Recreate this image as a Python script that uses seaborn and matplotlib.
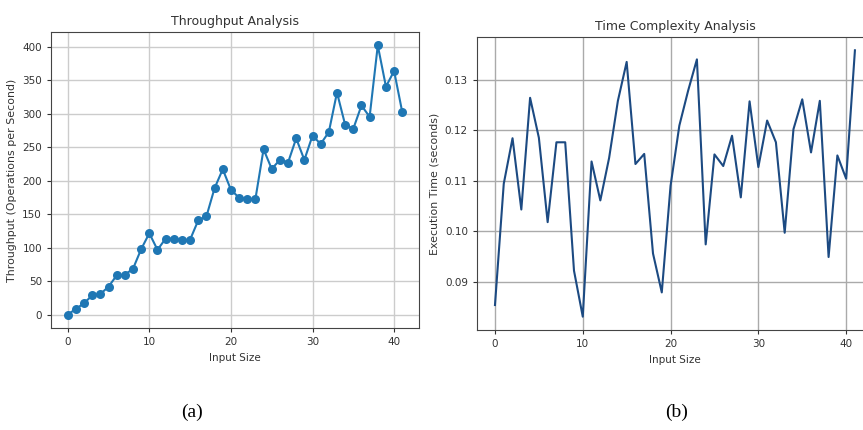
import numpy as np
import pandas as pd
import matplotlib
matplotlib.use("Agg")
import matplotlib.pyplot as plt
import seaborn as sns

plt.rcParams["font.family"] = ["DejaVu Sans"]

# 数据
input_size = list(range(42))
throughput = [0, 8.4, 16.9, 28.7, 30.7, 41.6, 58.5, 59.5, 68.4, 97.7,
              121.4, 96.7, 113.5, 113.5, 111, 112, 140.8, 146.7, 188.9, 217,
              186.4, 174.5, 172.5, 172.5, 246.9, 217.6, 231, 227, 263.2, 231,
              267.2, 254.8, 272.6, 331.6, 283.5, 277.6, 312.3, 295.4, 402, 340.5,
              363.8, 302.4]
exec_time = [0.0854, 0.1094, 0.1184, 0.1043, 0.1264, 0.1185, 0.1018, 0.1176, 0.1176, 0.0922,
             0.0831, 0.1138, 0.1061, 0.1145, 0.1258, 0.1335, 0.1133, 0.1153, 0.0956, 0.0879,
             0.1090, 0.1209, 0.1278, 0.1340, 0.0974, 0.1152, 0.1129, 0.1189, 0.1067, 0.1257,
             0.1127, 0.1219, 0.1176, 0.0997, 0.1202, 0.1261, 0.1156, 0.1258, 0.0949, 0.1150,
             0.1104, 0.1358]

df = pd.DataFrame({"size": input_size, "tp": throughput, "t": exec_time})

fig = plt.figure(figsize=(8.63, 4.30), dpi=100)
ax1 = fig.add_axes([0.0591, 0.2372, 0.4264, 0.6884])
ax2 = fig.add_axes([0.5527, 0.2326, 0.4588, 0.6814])

# (a) 吞吐量
sns.lineplot(data=df, x="size", y="tp", ax=ax1, color="#1f77b4", marker="o",
             markersize=6.5, markeredgewidth=0, linewidth=1.5)
ax1.set_title("Throughput Analysis", fontsize=9, color="#333333", pad=5)
ax1.set_xlabel("Input Size", fontsize=7.5, color="#333333")
ax1.set_ylabel("Throughput (Operations per Second)", fontsize=7.9, color="#333333")
ax1.set_xticks([0, 10, 20, 30, 40])
ax1.set_yticks(range(0, 401, 50))
ax1.grid(True, color="#cccccc", linewidth=1)

# (b) 执行时间
sns.lineplot(data=df, x="size", y="t", ax=ax2, color="#1c4a82", linewidth=1.5)
ax2.set_title("Time Complexity Analysis", fontsize=9, color="#333333", pad=5)
ax2.set_xlabel("Input Size", fontsize=7.5, color="#333333")
ax2.set_ylabel("Execution Time (seconds)", fontsize=7.9, color="#333333")
ax2.set_xticks([0, 10, 20, 30, 40])
ax2.set_yticks([0.09, 0.10, 0.11, 0.12, 0.13])
ax2.yaxis.set_major_formatter(matplotlib.ticker.FormatStrFormatter("%.2f"))
ax2.grid(True, color="#aaaaaa", linewidth=1)
ax2.spines["right"].set_visible(False)

for ax in (ax1, ax2):
    ax.tick_params(labelsize=7.5, colors="#333333", length=3)
    ax.set_axisbelow(True)
    for s in ax.spines.values():
        s.set_color("#444444")

fig.text(0.2225, 0.03, "(a)", fontsize=14, family="Liberation Serif", ha="center")
fig.text(0.7845, 0.03, "(b)", fontsize=14, family="Liberation Serif", ha="center")

fig.savefig("out.png", dpi=100)
